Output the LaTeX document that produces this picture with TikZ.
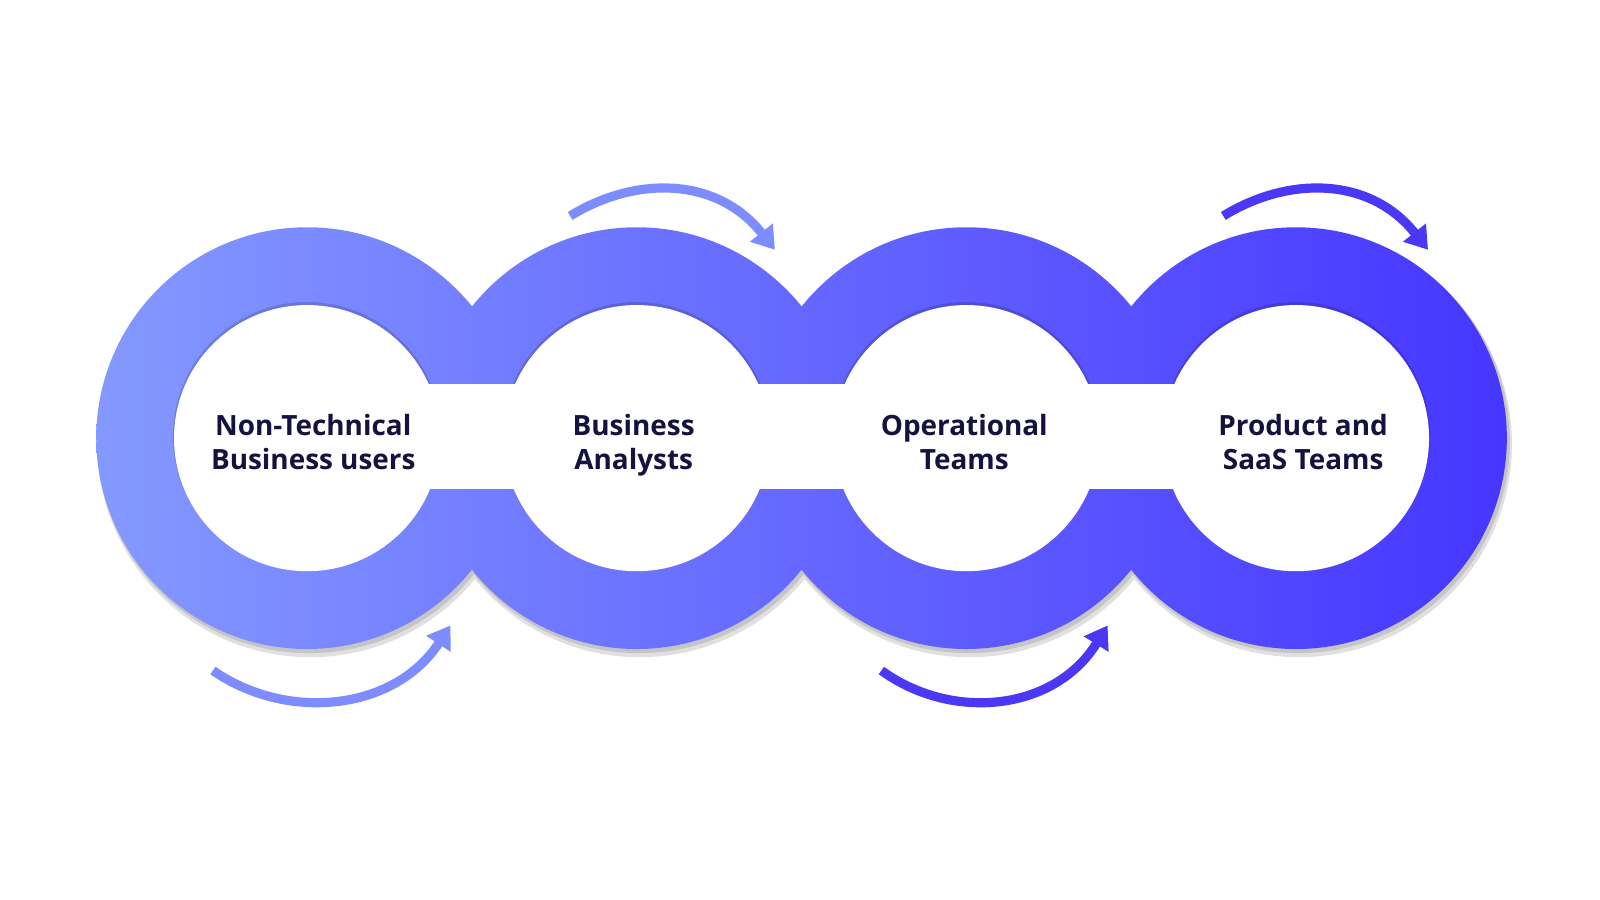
\documentclass[tikz,border=0pt]{standalone}
\usepackage{fontspec}
\setmainfont{Open Sans}[BoldFont={* Bold}]
\usetikzlibrary{arrows.meta}
\definecolor{cL}{HTML}{8499FF}
\definecolor{cR}{HTML}{4636FF}
\definecolor{txt}{HTML}{15123F}
\definecolor{aL}{HTML}{7D8CFF}
\definecolor{aD}{HTML}{4A38F5}
\begin{document}
\begin{tikzpicture}[x=0.5118bp,y=-0.5118bp,
  lab/.style={font=\fontsize{14}{17.3}\selectfont\bfseries,text=txt,align=center,anchor=north,inner sep=0pt},
  arr/.style={line width=4.6pt,-{Triangle[length=11pt,width=14pt]}}]
\path[use as bounding box] (0,0) rectangle (1563,879);
\begin{scope}
\clip (0,0) rectangle (1563,879);
% shadow
\fill[black,opacity=0.12] (303,434) circle (208) (625,434) circle (208) (947,434) circle (208) (1269,434) circle (208);
\fill[black,opacity=0.12] (302,431) circle (207) (624,431) circle (207) (946,431) circle (207) (1268,431) circle (207);
% gradient ring chain
\shade[left color=cL,right color=cR] (300,428) circle (206) (622,428) circle (206) (944,428) circle (206) (1266,428) circle (206);
% inner white
\fill[black,opacity=0.15] (300,426) circle (131) (622,426) circle (131) (944,426) circle (131) (1266,426) circle (131);
\fill[white] (300,428) circle (130) (622,428) circle (130) (944,428) circle (130) (1266,428) circle (130);
\fill[white] (300,375) rectangle (1266,478);
% labels
\node[lab] (n1) at (306,404) {Non-Technical\\Business users};
\node[lab] (n2) at (619,404) {Business\\Analysts};
\node[lab] (n3) at (942,404) {Operational\\Teams};
\node[lab] (n4) at (1273,404) {Product and\\SaaS Teams};
% arrows
\coordinate (a1s) at (557,211); \coordinate (a1e) at (757,244);
\coordinate (a2s) at (1195,211); \coordinate (a2e) at (1395,244);
\coordinate (b1s) at (208,655); \coordinate (b1e) at (440,611);
\coordinate (b2s) at (861,655); \coordinate (b2e) at (1082,611);
\draw[arr,aL] (a1s) .. controls (620,172) and (700,172) .. (a1e);
\draw[arr,aD] (a2s) .. controls (1258,172) and (1338,172) .. (a2e);
\draw[arr,aL] (b1s) .. controls (280,705) and (385,695) .. (b1e);
\draw[arr,aD] (b2s) .. controls (930,705) and (1030,695) .. (b2e);
\end{scope}
\end{tikzpicture}
\end{document}
